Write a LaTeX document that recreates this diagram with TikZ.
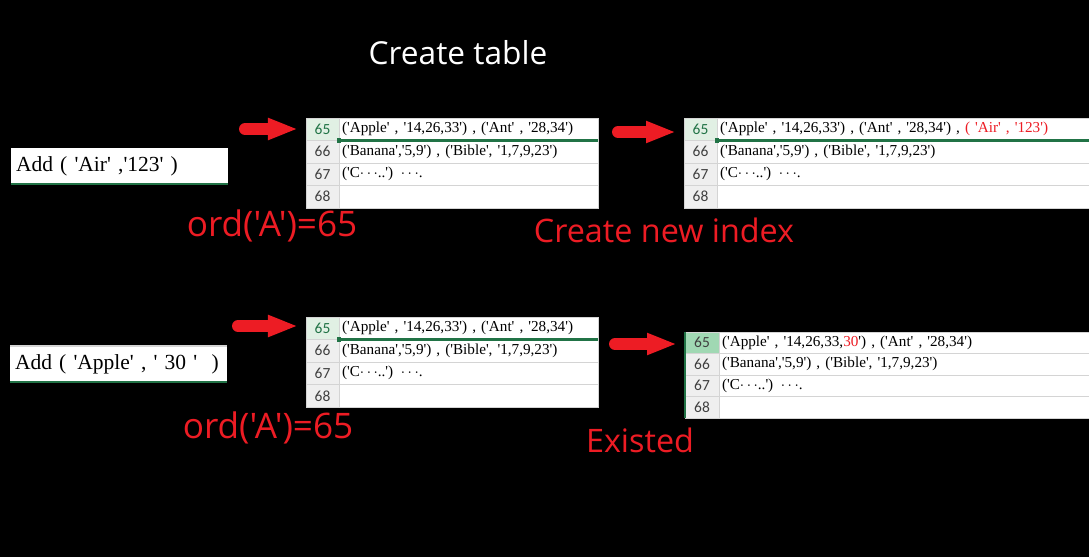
\documentclass[tikz,border=0pt]{standalone}
\usepackage{fontspec}
\usetikzlibrary{arrows.meta, positioning}
\newfontfamily\labelfont{Open Sans}
\newfontfamily\cellfont{Liberation Serif}[Ligatures=TeXOff]
\newfontfamily\numfont{Carlito}
\definecolor{SheetGreen}{HTML}{217346}
\definecolor{MarkRed}{HTML}{ED1C24}
\definecolor{HeadGrey}{HTML}{EFEFEF}
\definecolor{HeadGreen}{HTML}{E1F0E4}
\definecolor{HeadGreenDark}{HTML}{A0D8B3}
\definecolor{GridGrey}{HTML}{D4D4D4}
\newcommand{\dotsmid}{$\mathord{\cdots}$}

\begin{document}
\begin{tikzpicture}[
    x=0.025cm, y=-0.025cm,
    numcell/.style={draw=GridGrey, fill=HeadGrey, text=black!75, font=\numfont\fontsize{11}{13}\selectfont,
                    minimum width=0.825cm, minimum height=0.5625cm, inner sep=0pt, outer sep=0pt},
    numsel/.style={fill=HeadGreen, text=SheetGreen},
    rowcell/.style={draw=GridGrey, fill=white, font=\cellfont\fontsize{10.8}{13}\selectfont, text width=#1, align=left,
                    minimum height=0.5625cm, inner xsep=0.075cm, inner ysep=0pt, outer sep=0pt},
    addbox/.style={fill=white, font=\cellfont\fontsize{15.3}{18}\selectfont, text width=5.175cm, align=left,
                   minimum height=0.9cm, inner xsep=0.125cm, inner ysep=0pt, outer sep=0pt},
    redlabel/.style={text=MarkRed, font=\labelfont\fontsize{23}{26}\selectfont},
    selline/.style={draw=SheetGreen, line width=1.5pt},
    fatarrow/.style={-{Triangle[length=0.75cm, width=0.5cm]}, draw=MarkRed, line width=0.3cm, line cap=round, shorten >=0.2cm}
  ]
  \useasboundingbox (0,0) rectangle (1089,557);
  \fill[black] (0,0) rectangle (1089,557);

  % Title
  \node[text=white, font=\labelfont\fontsize{22.5}{26}\selectfont] (title) at (458,53) {Create table};

  % Add ( 'Air' ,'123' )
  \node[addbox, anchor=north west] (add1) at (11,148) {\mbox{Add ( 'Air' ,'123' )}};
  \draw[selline] (add1.south west) -- (add1.south east);

  % Table 1
  \node[numcell, numsel, anchor=north west] (t1n65) at (306,118) {65};
  \node[rowcell=6.325cm, right=0pt of t1n65] (t1r65) {('Apple' , '14,26,33') , ('Ant' , '28,34')};
  \foreach \i/\j/\txt in {66/65/{('Banana','5,9') , ('Bible', '1,7,9,23')}, 67/66/{('C\dotsmid..') \dotsmid.}, 68/67/{}} {
    \node[numcell, below=0pt of t1n\j] (t1n\i) {\i};
    \node[rowcell=6.325cm, right=0pt of t1n\i] (t1r\i) {\txt};
  }
  \draw[selline] (t1r65.south west) -- (t1r65.south east);
  \fill[SheetGreen] ([xshift=-1.5pt, yshift=1.5pt]t1r65.south west) rectangle +(3pt,-3pt);

  % Table 2
  \node[numcell, numsel, anchor=north west] (t2n65) at (684,118) {65};
  \node[rowcell=9.15cm, right=0pt of t2n65] (t2r65) {('Apple' , '14,26,33') , ('Ant' , '28,34') , \textcolor{MarkRed}{( 'Air' , '123')}};
  \foreach \i/\j/\txt in {66/65/{('Banana','5,9') , ('Bible', '1,7,9,23')}, 67/66/{('C\dotsmid..') \dotsmid.}, 68/67/{}} {
    \node[numcell, below=0pt of t2n\j] (t2n\i) {\i};
    \node[rowcell=9.15cm, right=0pt of t2n\i] (t2r\i) {\txt};
  }
  \draw[selline] (t2r65.south west) -- (t2r65.south east);
  \fill[SheetGreen] ([xshift=-1.5pt, yshift=1.5pt]t2r65.south west) rectangle +(3pt,-3pt);

  % Labels
  \node[redlabel, font=\labelfont\fontsize{25}{28}\selectfont] (ord1) at (272,226) {ord('A')=65};
  \node[redlabel] (newidx) at (664,230) {Create new index};

  % Add ( 'Apple' , ' 30 ' )
  \node[addbox, anchor=north west] (add2) at (10,346) {\mbox{Add ( 'Apple' , ' 30 ' \ )}};
  \draw[GridGrey, line width=1pt] (add2.north west) -- (add2.north east);
  \draw[selline] (add2.south west) -- (add2.south east);

  % Table 3
  \node[numcell, numsel, anchor=north west] (t3n65) at (306,317) {65};
  \node[rowcell=6.325cm, right=0pt of t3n65] (t3r65) {('Apple' , '14,26,33') , ('Ant' , '28,34')};
  \foreach \i/\j/\txt in {66/65/{('Banana','5,9') , ('Bible', '1,7,9,23')}, 67/66/{('C\dotsmid..') \dotsmid.}, 68/67/{}} {
    \node[numcell, below=0pt of t3n\j] (t3n\i) {\i};
    \node[rowcell=6.325cm, right=0pt of t3n\i] (t3r\i) {\txt};
  }
  \draw[selline] (t3r65.south west) -- (t3r65.south east);
  \fill[SheetGreen] ([xshift=-1.5pt, yshift=1.5pt]t3r65.south west) rectangle +(3pt,-3pt);

  % Table 4
  \node[numcell, fill=HeadGreenDark, anchor=north west, minimum width=0.85cm, minimum height=0.5375cm] (t4n65) at (685,332) {65};
  \node[rowcell=9.1cm, right=0pt of t4n65, minimum height=0.5375cm] (t4r65) {('Apple' , '14,26,33,\textcolor{MarkRed}{30}') , ('Ant' , '28,34')};
  \foreach \i/\j/\txt in {66/65/{('Banana','5,9') , ('Bible', '1,7,9,23')}, 67/66/{('C\dotsmid..') \dotsmid.}, 68/67/{}} {
    \node[numcell, below=0pt of t4n\j, minimum width=0.85cm, minimum height=0.5375cm] (t4n\i) {\i};
    \node[rowcell=9.1cm, right=0pt of t4n\i, minimum height=0.5375cm] (t4r\i) {\txt};
  }
  \draw[selline] (t4n65.north west) -- (t4n68.south west);

  % Labels
  \node[redlabel, font=\labelfont\fontsize{25}{28}\selectfont] (ord2) at (268,428) {ord('A')=65};
  \node[redlabel] (exist) at (640,440) {Existed};

  % Arrows
  \coordinate (a1) at (245,129);
  \coordinate (a2) at (618,132);
  \coordinate (a3) at (238,326);
  \coordinate (a4) at (615,344);
  \draw[fatarrow] (a1) -- (a1 -| t1n65.west);
  \draw[fatarrow] (a2) -- (a2 -| t2n65.west);
  \draw[fatarrow] (a3) -- (a3 -| t3n65.west);
  \draw[fatarrow] (a4) -- (a4 -| t4n65.west);
\end{tikzpicture}
\end{document}
